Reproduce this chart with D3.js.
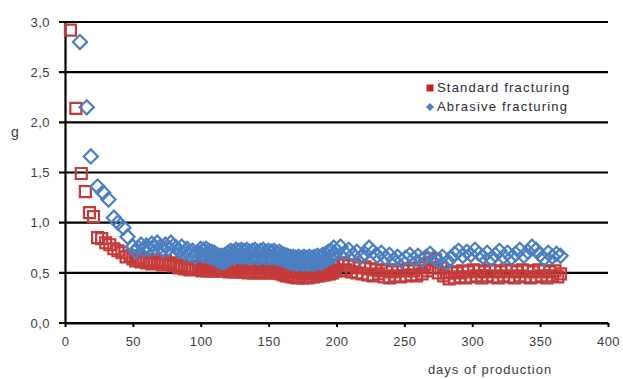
<!DOCTYPE html>
<html>
<head>
<meta charset="utf-8">
<script src="https://cdn.jsdelivr.net/npm/d3@7"></script>
<style>
  body { margin: 0; background: #fff; }
  text { font-family: Arial, "Liberation Sans", sans-serif; }
</style>
</head>
<body>
<div id="chart"></div>
<script>
// tick labels
const xTicks = [0, 50, 100, 150, 200, 250, 300, 350, 400];
const yTicks = [0, 0.5, 1.0, 1.5, 2.0, 2.5, 3.0];

// Standard fracturing (red squares)
const stdDays = [4, 8, 12, 15, 18, 21, 24, 27, 30, 33, 36, 39, 42, 45, 48,
  50, 52, 54, 56, 58, 60, 62, 64, 66, 68, 70, 72, 74, 76, 78, 80, 82, 84, 86, 88, 90, 92, 94, 96, 98,
  100, 101, 102, 103, 104, 105, 106, 107, 108, 109, 110, 111, 112, 113, 114, 115, 116, 117, 118, 119,
  120, 121, 122, 123, 124, 125, 126, 127, 128, 129, 130, 131, 132, 133, 134, 135, 136, 137, 138, 139,
  140, 141, 142, 143, 144, 145, 146, 147, 148, 149, 150, 151, 152, 153, 154, 155, 156, 157, 158, 159,
  160, 161, 162, 163, 164, 165, 166, 167, 168, 169, 170, 171, 172, 173, 174, 175, 176, 177, 178, 179,
  180, 181, 182, 183, 184, 185, 186, 187, 188, 189, 190, 191, 192, 193, 194, 195, 196, 197, 198, 199,
  201, 203, 205, 207, 209, 211, 213, 215, 217, 219, 221, 223, 225, 227, 229, 231,
  233, 235, 237, 239, 241, 243, 245, 247, 249, 251, 253, 255, 257, 259, 261, 263,
  265, 267, 269, 271, 273, 275, 277, 279, 281, 283, 285, 287, 289, 291, 293, 295,
  297, 299, 301, 303, 305, 307, 309, 311, 313, 315, 317, 319, 321, 323, 325, 327,
  329, 331, 333, 335, 337, 339, 341, 343, 345, 347, 349, 351, 353, 355, 357, 359,
  361, 363, 365];
const stdValues = [2.92, 2.14, 1.49, 1.31, 1.10, 1.06, 0.85, 0.84, 0.80, 0.78, 0.74, 0.72, 0.70, 0.66, 0.67,
  0.64, 0.62, 0.65, 0.61, 0.63, 0.60, 0.62, 0.59, 0.63, 0.60, 0.61, 0.58, 0.62, 0.59, 0.60, 0.57, 0.58, 0.55, 0.57, 0.54, 0.56, 0.53, 0.55, 0.54, 0.56,
  0.57, 0.52, 0.56, 0.53, 0.57, 0.52, 0.56, 0.53, 0.56, 0.52, 0.56, 0.52, 0.57, 0.53, 0.56, 0.52, 0.56, 0.53, 0.56, 0.52,
  0.56, 0.51, 0.56, 0.52, 0.55, 0.51, 0.56, 0.52, 0.55, 0.51, 0.55, 0.51, 0.55, 0.51, 0.55, 0.50, 0.55, 0.51, 0.55, 0.50,
  0.55, 0.51, 0.55, 0.50, 0.55, 0.51, 0.55, 0.50, 0.55, 0.51, 0.54, 0.50, 0.54, 0.51, 0.54, 0.50, 0.54, 0.50, 0.53, 0.49,
  0.53, 0.48, 0.52, 0.47, 0.52, 0.47, 0.51, 0.46, 0.51, 0.46, 0.51, 0.45, 0.50, 0.46, 0.51, 0.45, 0.50, 0.46, 0.50, 0.45,
  0.51, 0.46, 0.50, 0.46, 0.51, 0.47, 0.52, 0.47, 0.51, 0.48, 0.53, 0.48, 0.52, 0.49, 0.54, 0.49, 0.53, 0.50, 0.56, 0.52,
  0.58, 0.52, 0.60, 0.53, 0.57, 0.51, 0.58, 0.50, 0.55, 0.49, 0.56, 0.48, 0.54, 0.47, 0.53, 0.49,
  0.52, 0.46, 0.53, 0.45, 0.51, 0.47, 0.53, 0.46, 0.52, 0.47, 0.54, 0.48, 0.52, 0.47, 0.55, 0.49,
  0.58, 0.52, 0.64, 0.55, 0.63, 0.50, 0.55, 0.47, 0.50, 0.44, 0.51, 0.45, 0.50, 0.46, 0.52, 0.45,
  0.51, 0.46, 0.53, 0.47, 0.52, 0.45, 0.51, 0.47, 0.53, 0.46, 0.52, 0.45, 0.51, 0.47, 0.53, 0.46,
  0.52, 0.45, 0.51, 0.47, 0.53, 0.46, 0.52, 0.45, 0.51, 0.46, 0.53, 0.47, 0.52, 0.45, 0.51, 0.47,
  0.52, 0.46, 0.49];

// Abrasive fracturing (blue diamonds)
const abrDays = [11, 16, 19, 24, 28, 32, 36, 39, 43, 46, 50,
  52, 54, 56, 58, 60, 62, 64, 66, 68, 70, 72, 74, 76, 78, 80, 82, 84, 86, 88, 90, 92, 94, 96, 98,
  100, 101, 102, 103, 104, 105, 106, 107, 108, 109, 110, 111, 112, 113, 114, 115, 116, 117, 118, 119,
  120, 121, 122, 123, 124, 125, 126, 127, 128, 129, 130, 131, 132, 133, 134, 135, 136, 137, 138, 139,
  140, 141, 142, 143, 144, 145, 146, 147, 148, 149, 150, 151, 152, 153, 154, 155, 156, 157, 158, 159,
  160, 161, 162, 163, 164, 165, 166, 167, 168, 169, 170, 171, 172, 173, 174, 175, 176, 177, 178, 179,
  180, 181, 182, 183, 184, 185, 186, 187, 188, 189, 190, 191, 192, 193, 194, 195, 196, 197, 198, 199,
  200, 203, 206, 209, 212, 215, 218, 221, 224, 227, 230, 233, 236, 239, 242, 245, 248, 251, 254, 257,
  260, 263, 266, 269, 272, 275, 278, 281, 284, 287, 290, 293, 296, 299, 302, 305, 308, 311, 314, 317,
  320, 323, 326, 329, 332, 335, 338, 341, 344, 347, 350, 353, 356, 359, 362, 365];
const abrValues = [2.80, 2.15, 1.66, 1.36, 1.30, 1.23, 1.05, 1.00, 0.95, 0.86, 0.76,
  0.72, 0.75, 0.78, 0.73, 0.77, 0.74, 0.79, 0.75, 0.80, 0.76, 0.73, 0.78, 0.74, 0.80, 0.77, 0.75, 0.72, 0.76, 0.70, 0.74, 0.68, 0.72, 0.66, 0.70,
  0.74, 0.68, 0.73, 0.67, 0.74, 0.68, 0.72, 0.66, 0.71, 0.65, 0.70, 0.64, 0.68, 0.62, 0.67, 0.61, 0.67, 0.61, 0.68, 0.62,
  0.70, 0.64, 0.72, 0.66, 0.71, 0.65, 0.73, 0.67, 0.72, 0.66, 0.73, 0.67, 0.72, 0.66, 0.73, 0.67, 0.71, 0.65, 0.72, 0.66,
  0.73, 0.67, 0.71, 0.65, 0.72, 0.66, 0.73, 0.67, 0.71, 0.65, 0.72, 0.66, 0.71, 0.65, 0.72, 0.66, 0.70, 0.64, 0.71, 0.65,
  0.69, 0.63, 0.68, 0.62, 0.67, 0.61, 0.66, 0.60, 0.66, 0.60, 0.65, 0.59, 0.66, 0.60, 0.65, 0.59, 0.66, 0.60, 0.65, 0.59,
  0.66, 0.60, 0.65, 0.59, 0.66, 0.60, 0.67, 0.61, 0.66, 0.60, 0.68, 0.62, 0.69, 0.63, 0.71, 0.65, 0.72, 0.66, 0.75, 0.69,
  0.72, 0.76, 0.70, 0.73, 0.68, 0.71, 0.66, 0.69, 0.75, 0.71, 0.67, 0.70, 0.65, 0.68, 0.63, 0.66, 0.62, 0.65, 0.68, 0.64,
  0.67, 0.63, 0.66, 0.69, 0.65, 0.62, 0.66, 0.60, 0.64, 0.69, 0.72, 0.67, 0.71, 0.68, 0.73, 0.69, 0.66, 0.70, 0.64, 0.68,
  0.72, 0.66, 0.70, 0.65, 0.69, 0.73, 0.67, 0.71, 0.76, 0.73, 0.68, 0.64, 0.70, 0.66, 0.69, 0.67];

const seriesNames = ['Standard fracturing', 'Abrasive fracturing'];

const width = 623, height = 379;
const red = '#c53a3a', blue = '#4a7fc1';

const svg = d3.select('#chart').append('svg')
  .attr('width', width)
  .attr('height', height)
  .style('background', '#fff');

const x = d3.scaleLinear().domain([0, 400]).range([65, 608]);
const y = d3.scaleLinear().domain([0, 3]).range([323, 22]);

const fmt = d => d3.format('.1f')(d).replace('.', ',');

// horizontal grid lines (black, heavy)
svg.append('g')
  .selectAll('line')
  .data(yTicks)
  .enter()
  .append('line')
  .attr('x1', x(0) - 6)
  .attr('x2', x(400))
  .attr('y1', d => y(d))
  .attr('y2', d => y(d))
  .attr('stroke', '#000')
  .attr('stroke-width', 2.2);

// y axis
let yAxis = d3.axisLeft(y).tickValues(yTicks).tickFormat(fmt).tickSize(0).tickPadding(15);
let gy = svg.append('g').attr('transform', `translate(${x(0)},0)`).call(yAxis);
gy.select('.domain').attr('stroke', '#000').attr('stroke-width', 2.2);
gy.selectAll('text').attr('font-size', 13).attr('fill', '#3c3c46').attr('letter-spacing', 0.5);

// x axis
let xAxis = d3.axisBottom(x).tickValues(xTicks).tickSize(4).tickPadding(10).tickSizeOuter(0);
let gx = svg.append('g').attr('transform', `translate(0,${y(0)})`).call(xAxis);
gx.select('.domain').attr('stroke', '#000').attr('stroke-width', 2.2);
gx.selectAll('line').attr('stroke', '#000').attr('stroke-width', 2);
gx.selectAll('text').attr('font-size', 13).attr('fill', '#3c3c46').attr('letter-spacing', 0.5);

// axis titles
svg.append('text')
  .attr('x', 15).attr('y', 137)
  .attr('text-anchor', 'middle')
  .attr('font-size', 14)
  .attr('fill', '#3c3c46')
  .text('g');

svg.append('text')
  .attr('x', 490).attr('y', 374)
  .attr('text-anchor', 'middle')
  .attr('font-size', 13)
  .attr('letter-spacing', 1)
  .attr('fill', '#3c3c46')
  .text('days of production');

// markers
const square = d3.symbol().type(d3.symbolSquare).size(121);
const diamond = d3.symbol().type(d3.symbolSquare).size(100);

svg.append('g')
  .selectAll('path')
  .data(stdDays.map((d, i) => [d, stdValues[i]]))
  .enter()
  .append('path')
  .attr('d', square)
  .attr('transform', d => `translate(${x(d[0])},${y(d[1])})`)
  .attr('fill', 'none')
  .attr('stroke', red)
  .attr('stroke-width', 2.2);

svg.append('g')
  .selectAll('path')
  .data(abrDays.map((d, i) => [d, abrValues[i]]))
  .enter()
  .append('path')
  .attr('d', diamond)
  .attr('transform', d => `translate(${x(d[0])},${y(d[1])}) rotate(45)`)
  .attr('fill', 'none')
  .attr('stroke', blue)
  .attr('stroke-width', 2.2);

// legend
const legend = svg.append('g').attr('transform', 'translate(430,0)');
legend.append('path')
  .attr('d', d3.symbol().type(d3.symbolSquare).size(49))
  .attr('transform', 'translate(0,88)')
  .attr('fill', '#cc1f1f');
legend.append('path')
  .attr('d', d3.symbol().type(d3.symbolSquare).size(32))
  .attr('transform', 'translate(0,107) rotate(45)')
  .attr('fill', blue);
legend.selectAll('text.lbl')
  .data(seriesNames)
  .enter()
  .append('text')
  .attr('class', 'lbl')
  .attr('x', 7)
  .attr('y', (d, i) => 92 + i * 19)
  .attr('font-size', 13)
  .attr('letter-spacing', 1.2)
  .attr('fill', '#2a2a35')
  .text(d => d);
</script>
</body>
</html>
